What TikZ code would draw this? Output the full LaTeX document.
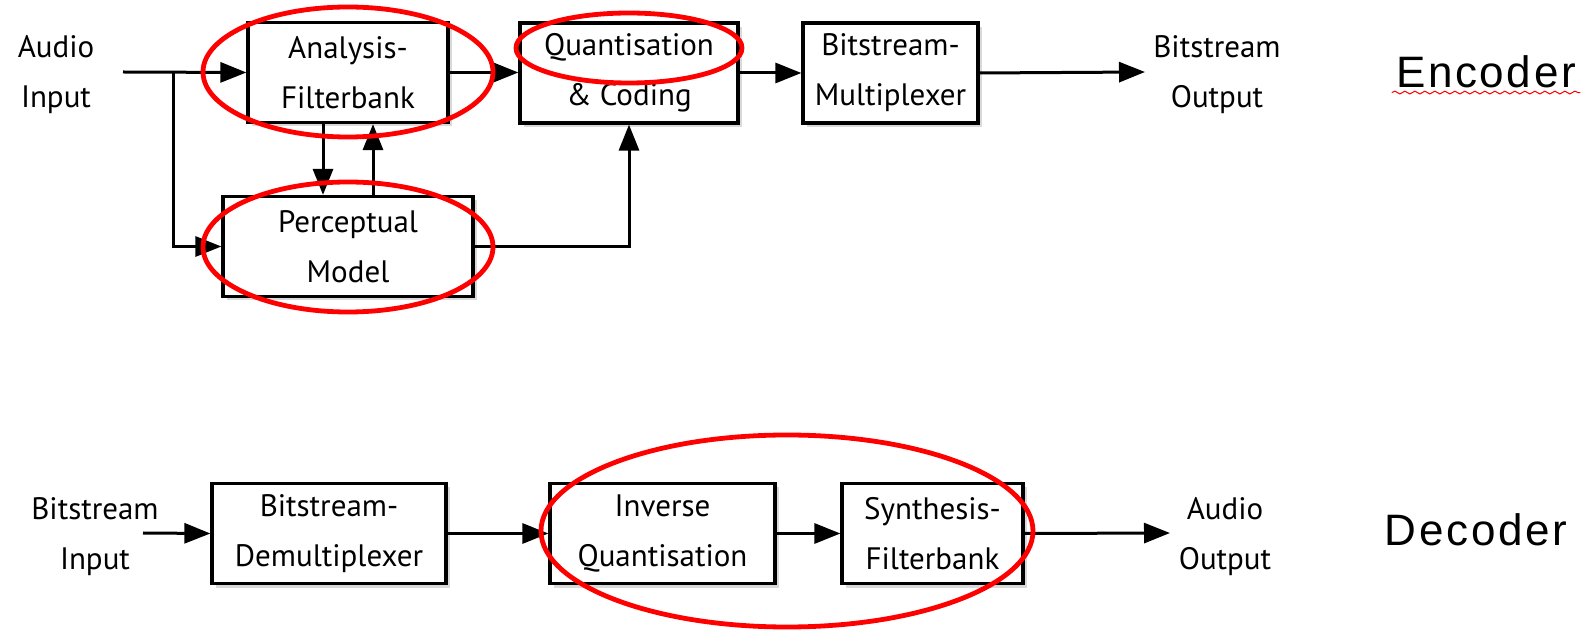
\documentclass[tikz,border=0pt]{standalone}
\usepackage{fontspec}
\setmainfont{PT Sans}
\newfontfamily\labelfont[LetterSpace=6]{Liberation Sans}
\usetikzlibrary{arrows.meta,shadows,decorations.pathmorphing}

\tikzset{
  block/.style={draw, line width=1.6pt, fill=white, align=center, inner sep=0pt,
    minimum height=50pt, drop shadow={shadow xshift=2pt, shadow yshift=-2pt, opacity=0.3}},
  txt/.style={align=center, inner sep=0pt},
  arr/.style={line width=1.5pt, -{Triangle[length=13pt,width=10pt]}},
  hilite/.style={draw=red, line width=2.4pt},
}

\begin{document}
\begin{tikzpicture}[x=0.5pt,y=0.5pt,yscale=-1,font=\fontsize{15.5}{25}\selectfont]
\useasboundingbox (0,0) rectangle (1591,630);

%Shape: Rectangle [id:afb]
\node[block, minimum width=100pt] (afb) at (348,72.5) {Analysis-\\Filterbank};
%Shape: Rectangle [id:pm]
\node[block, minimum width=125pt] (pm) at (348,246.5) {Perceptual\\Model};
%Shape: Rectangle [id:qc]
\node[block, minimum width=109pt] (qc) at (629,73) {Quantisation\\\& Coding};
%Shape: Rectangle [id:mux]
\node[block, minimum width=87.5pt] (mux) at (890.5,73) {Bitstream-\\Multiplexer};

%Shape: Rectangle [id:demux]
\node[block, minimum width=117pt] (demux) at (329,533.5) {Bitstream-\\Demultiplexer};
%Shape: Rectangle [id:invq]
\node[block, minimum width=112.5pt] (invq) at (662.5,533.5) {Inverse\\Quantisation};
%Shape: Rectangle [id:synth]
\node[block, minimum width=90.5pt] (synth) at (932.5,533.5) {Synthesis-\\Filterbank};

% Text Node
\node[txt] (audioin) at (56,75) {Audio\\Input};
% Text Node
\node[txt] (bsout) at (1217,75) {Bitstream\\Output};
% Text Node
\node[txt] (bsin) at (95,537) {Bitstream\\Input};
% Text Node
\node[txt] (audioout) at (1225,537) {Audio\\Output};
% Text Node
\node[txt, font=\labelfont\fontsize{22}{26}\selectfont, inner sep=2pt] (enc) at (1486,72) {Encoder};
% Text Node
\node[txt, font=\labelfont\fontsize{22}{26}\selectfont] (dec) at (1476,530) {Decoder};

\coordinate (in) at (123,72);
\coordinate (split) at (173,72);
\coordinate (out) at (1145,72);
\coordinate (din) at (143,533);
\coordinate (dout) at (1170,533);

%Straight Lines
\draw[arr] (in) -- (afb.west);
\draw[arr] (split) |- (pm.west);
\draw[arr] ([xshift=-12.5pt]afb.south) -- ([xshift=-12.5pt]pm.north);
\draw[arr] ([xshift=12.5pt]pm.north) -- ([xshift=12.5pt]afb.south);
\draw[arr] (afb.east) -- (afb.east -| qc.west);
\draw[arr] (pm.east) -| (qc.south);
\draw[arr] (qc.east) -- (qc.east -| mux.west);
\draw[arr] (mux.east) -- (out);

%Straight Lines
\draw[arr] (din) -- (demux.west);
\draw[arr] (demux.east) -- (invq.west);
\draw[arr] (invq.east) -- (synth.west);
\draw[arr] (synth.east) -- (dout);

%Shape: Ellipse
\draw[hilite] (348,72) ellipse [x radius=145, y radius=65];
\draw[hilite] (348,247) ellipse [x radius=145, y radius=65];
\draw[hilite] (629,48) ellipse [x radius=113, y radius=35];
\draw[hilite] (787,531) ellipse [x radius=246, y radius=96];

%Curve Lines
\draw[red, line width=0.5pt, decorate, decoration={snake, amplitude=0.7pt, segment length=5pt}]
  (enc.south west) -- (enc.south east);

\end{tikzpicture}
\end{document}
